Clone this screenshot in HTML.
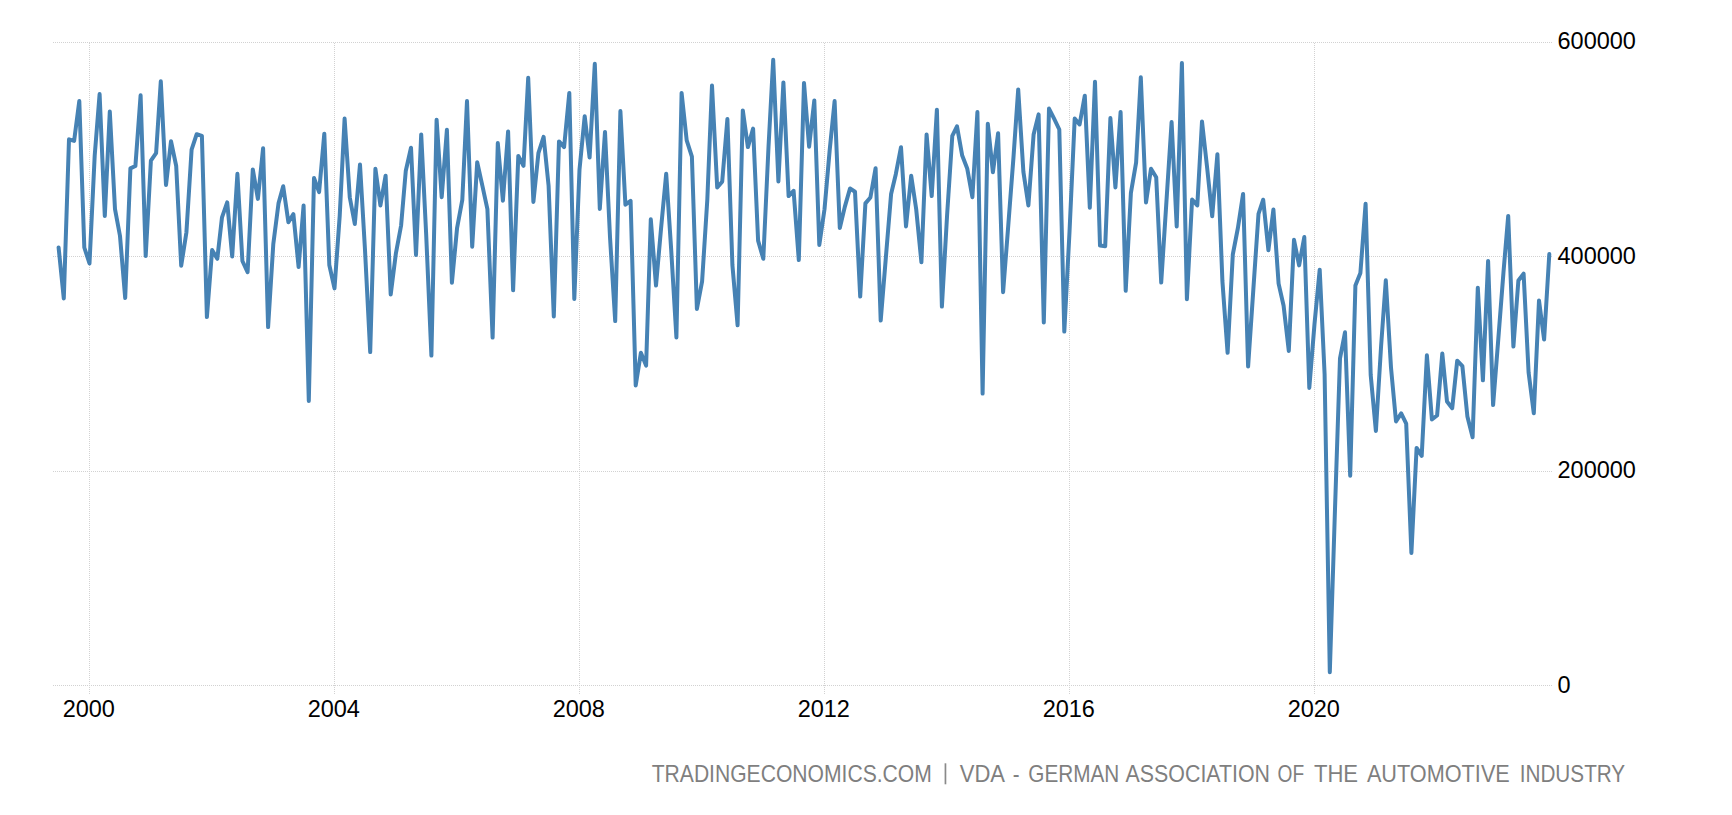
<!DOCTYPE html>
<html><head><meta charset="utf-8"><title>Germany Car Production</title>
<style>
html,body{margin:0;padding:0;background:#fff;}
body{width:1732px;height:815px;overflow:hidden;font-family:"Liberation Sans",sans-serif;}
svg{display:block;}
.g line{stroke:#d2d2d2;stroke-width:1;stroke-dasharray:1 1;shape-rendering:crispEdges;}
.ax text{font-family:"Liberation Sans",sans-serif;font-size:23.5px;fill:#000;}
.ft{font-family:"Liberation Sans",sans-serif;font-size:23.6px;fill:#7f7f7f;}
</style></head><body>
<svg width="1732" height="815" viewBox="0 0 1732 815">
<rect width="1732" height="815" fill="#fff"/>
<g class="g"><line x1="52.5" x2="1552" y1="42.5" y2="42.5"/><line x1="52.5" x2="1552" y1="256.5" y2="256.5"/><line x1="52.5" x2="1552" y1="471.5" y2="471.5"/><line x1="52.5" x2="1552" y1="685.5" y2="685.5"/><line x1="89.5" x2="89.5" y1="42.5" y2="693.5"/><line x1="334.5" x2="334.5" y1="42.5" y2="693.5"/><line x1="579.5" x2="579.5" y1="42.5" y2="693.5"/><line x1="824.5" x2="824.5" y1="42.5" y2="693.5"/><line x1="1069.5" x2="1069.5" y1="42.5" y2="693.5"/><line x1="1314.5" x2="1314.5" y1="42.5" y2="693.5"/></g>
<polyline fill="none" stroke="#4682b4" stroke-width="4" stroke-linejoin="round" stroke-linecap="round" points="58.6,247.5 63.8,298.5 69.0,139.3 74.1,140.9 79.3,101.1 84.3,247.5 89.5,263.5 94.7,155.6 99.6,94.1 104.8,215.9 109.8,111.6 115.0,209.2 120.0,236.0 125.2,298.0 130.4,168.4 135.4,166.0 140.6,95.3 145.7,256.0 150.9,160.7 156.1,153.2 160.8,81.3 166.0,184.9 171.0,141.2 176.2,166.0 181.2,265.7 186.4,232.5 191.6,149.7 196.7,134.2 201.9,135.8 206.9,317.1 212.1,250.1 217.3,258.8 222.0,217.3 227.2,202.3 232.2,256.5 237.4,173.8 242.4,261.0 247.6,272.2 252.8,169.4 257.9,198.9 263.1,148.2 268.1,327.1 273.3,244.0 278.5,203.4 283.2,186.2 288.4,222.2 293.4,214.1 298.6,267.0 303.6,205.5 308.8,401.0 314.0,178.0 319.1,192.1 324.3,133.7 329.3,265.0 334.5,288.4 339.7,216.0 344.6,118.6 349.8,197.5 354.8,224.0 360.0,164.5 365.0,250.0 370.2,352.1 375.4,168.7 380.4,205.4 385.6,175.7 390.7,294.5 395.9,253.3 401.1,225.5 405.8,170.7 411.0,147.7 416.0,254.9 421.2,134.4 426.2,235.0 431.4,355.6 436.6,119.7 441.7,197.2 446.9,129.8 451.9,282.8 457.1,227.8 462.3,199.9 467.0,101.1 472.2,246.7 477.2,162.2 482.4,185.9 487.4,209.2 492.6,337.6 497.8,143.1 502.9,200.7 508.1,131.4 513.1,290.3 518.3,155.9 523.5,165.8 528.2,77.8 533.4,201.9 538.4,153.2 543.6,136.8 548.6,185.9 553.8,316.4 559.0,141.4 564.1,147.1 569.3,92.9 574.3,298.9 579.5,169.6 584.7,116.2 589.6,157.6 594.8,63.8 599.8,208.9 605.0,131.9 610.0,237.0 615.2,321.1 620.4,111.1 625.4,204.7 630.6,200.9 635.7,385.4 640.9,352.7 646.1,365.6 650.8,219.3 656.0,285.6 661.0,229.0 666.2,173.8 671.2,250.0 676.4,337.4 681.6,92.9 686.7,140.4 691.9,156.7 696.9,309.0 702.1,281.3 707.3,199.9 712.0,85.5 717.2,187.4 722.2,181.7 727.4,119.0 732.4,265.0 737.6,325.3 742.8,110.4 747.9,147.1 753.1,128.6 758.1,240.6 763.3,258.8 768.5,147.0 773.2,59.8 778.4,181.4 783.4,82.4 788.6,196.1 793.6,190.8 798.8,260.0 804.0,82.9 809.1,146.7 814.3,100.4 819.3,245.0 824.5,209.2 829.7,150.0 834.6,101.1 839.8,228.0 844.8,206.9 850.0,188.5 855.0,191.7 860.2,296.6 865.4,203.4 870.4,197.5 875.6,168.2 880.7,320.6 885.9,257.0 891.1,194.0 895.8,174.2 901.0,147.2 906.0,226.4 911.2,175.7 916.2,209.2 921.4,262.3 926.6,134.4 931.7,196.1 936.9,109.7 941.9,306.6 947.1,215.0 952.3,135.8 957.0,126.3 962.2,155.6 967.2,168.4 972.4,197.2 977.4,112.0 982.6,393.6 987.8,123.7 992.9,172.3 998.1,133.3 1003.1,292.2 1008.3,225.0 1013.5,157.0 1018.2,89.4 1023.4,171.9 1028.4,205.4 1033.6,134.6 1038.6,114.4 1043.8,322.5 1049.0,108.6 1054.1,118.7 1059.3,129.5 1064.3,331.6 1069.5,232.0 1074.7,118.6 1079.6,124.5 1084.8,95.7 1089.8,207.7 1095.0,81.7 1100.0,245.6 1105.2,246.2 1110.4,118.1 1115.4,187.4 1120.6,112.0 1125.7,290.8 1130.9,192.9 1136.1,162.6 1140.8,77.3 1146.0,202.4 1151.0,168.7 1156.2,177.2 1161.2,282.6 1166.4,202.0 1171.6,122.1 1176.7,226.4 1181.9,63.1 1186.9,299.2 1192.1,199.5 1197.3,205.4 1202.0,121.4 1207.2,168.4 1212.2,216.3 1217.4,154.2 1222.4,281.0 1227.6,352.8 1232.8,254.5 1237.9,228.0 1243.1,193.9 1248.1,366.5 1253.3,290.0 1258.5,213.8 1263.2,199.7 1268.4,250.2 1273.4,209.5 1278.6,283.6 1283.6,305.8 1288.8,350.9 1294.0,239.8 1299.1,265.4 1304.3,237.0 1309.3,387.9 1314.5,324.0 1319.7,269.7 1324.6,374.0 1329.8,672.3 1334.8,515.0 1340.0,358.4 1345.0,332.3 1350.2,475.8 1355.4,285.5 1360.4,272.9 1365.6,203.7 1370.7,375.0 1375.9,431.0 1381.1,346.0 1385.8,280.3 1391.0,367.6 1396.0,421.4 1401.2,413.4 1406.2,423.6 1411.4,553.0 1416.6,447.9 1421.7,455.9 1426.9,355.3 1431.9,419.4 1437.1,415.5 1442.3,353.4 1447.0,401.5 1452.2,408.2 1457.2,360.7 1462.4,366.2 1467.4,416.6 1472.6,437.3 1477.8,287.7 1482.9,380.3 1488.1,260.9 1493.1,405.1 1498.3,339.0 1503.5,272.0 1508.2,215.9 1513.4,346.6 1518.4,280.4 1523.6,273.7 1528.6,372.5 1533.8,413.3 1539.0,300.5 1544.1,339.6 1549.3,254.1"/>
<g class="ax"><text x="88.8" y="716.5" text-anchor="middle">2000</text><text x="333.8" y="716.5" text-anchor="middle">2004</text><text x="578.8" y="716.5" text-anchor="middle">2008</text><text x="823.8" y="716.5" text-anchor="middle">2012</text><text x="1068.8" y="716.5" text-anchor="middle">2016</text><text x="1313.8" y="716.5" text-anchor="middle">2020</text><text x="1557.5" y="49.4">600000</text><text x="1557.5" y="263.8">400000</text><text x="1557.5" y="478.1">200000</text><text x="1557.5" y="692.5">0</text></g>
<text class="ft" x="651.7" y="781.6" textLength="280.1" lengthAdjust="spacingAndGlyphs">TRADINGECONOMICS.COM</text><text class="ft" x="959.7" y="781.6" textLength="45.3" lengthAdjust="spacingAndGlyphs">VDA</text><text class="ft" x="1012.7" y="781.6" textLength="6.8" lengthAdjust="spacingAndGlyphs">-</text><text class="ft" x="1028.3" y="781.6" textLength="91.0" lengthAdjust="spacingAndGlyphs">GERMAN</text><text class="ft" x="1125.6" y="781.6" textLength="144.4" lengthAdjust="spacingAndGlyphs">ASSOCIATION</text><text class="ft" x="1277.5" y="781.6" textLength="26.6" lengthAdjust="spacingAndGlyphs">OF</text><text class="ft" x="1313.9" y="781.6" textLength="44.2" lengthAdjust="spacingAndGlyphs">THE</text><text class="ft" x="1366.9" y="781.6" textLength="142.9" lengthAdjust="spacingAndGlyphs">AUTOMOTIVE</text><text class="ft" x="1519.7" y="781.6" textLength="105.5" lengthAdjust="spacingAndGlyphs">INDUSTRY</text><rect x="944.6" y="763.3" width="1.7" height="21" fill="#8a8a8a"/>
</svg>
</body></html>
